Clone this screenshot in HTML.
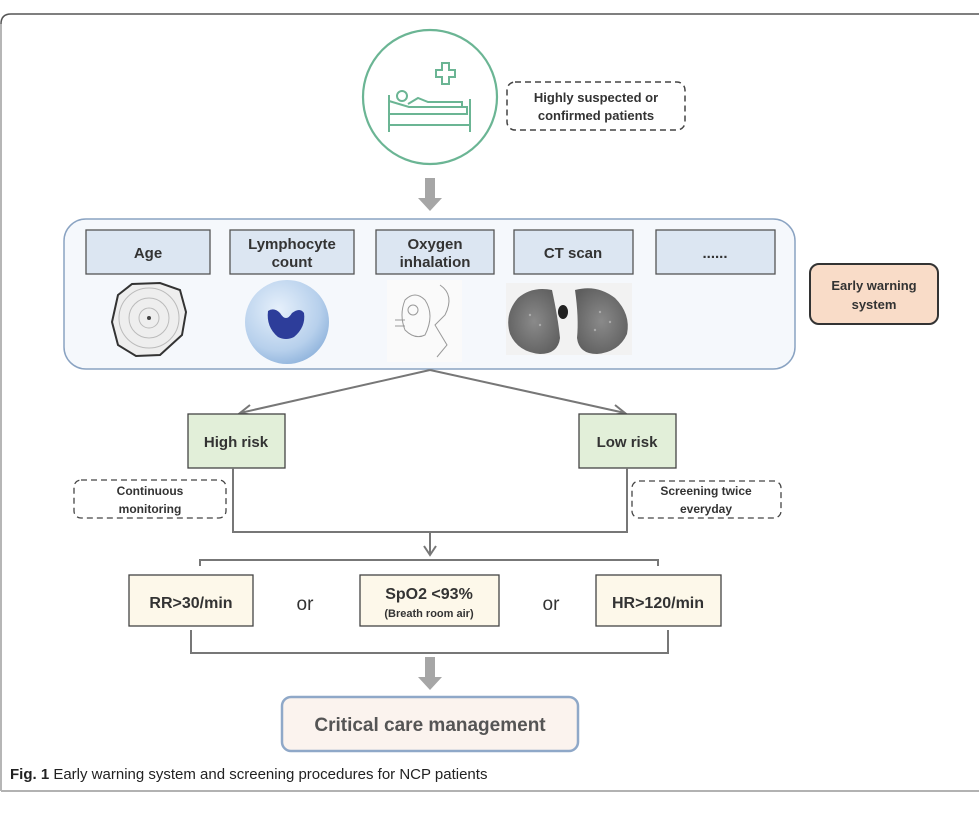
<!DOCTYPE html>
<html><head><meta charset="utf-8"><style>
html,body{margin:0;padding:0;background:#fff;width:979px;height:825px;overflow:hidden}
text{font-family:"Liberation Sans",sans-serif}
</style></head><body>
<svg width="979" height="825" viewBox="0 0 979 825" xmlns="http://www.w3.org/2000/svg">
<defs>
<radialGradient id="cell" cx="0.4" cy="0.35" r="0.7"><stop offset="0" stop-color="#e6f0fb"/><stop offset="0.7" stop-color="#b7d0ec"/><stop offset="1" stop-color="#8fb3dc"/></radialGradient>
<radialGradient id="lung" cx="0.5" cy="0.5" r="0.6"><stop offset="0" stop-color="#8a8a8a"/><stop offset="1" stop-color="#5e5e5e"/></radialGradient>
</defs>
<path d="M1,791 L1,24 Q1,14 11,14 L990,14" fill="none" stroke="#555" stroke-width="1.5"/>
<line x1="1" y1="791" x2="979" y2="791" stroke="#999" stroke-width="1.5"/>
<line x1="1" y1="24" x2="1" y2="791" stroke="#bbb" stroke-width="1.5"/>

<circle cx="430" cy="97" r="67" fill="#fff" stroke="#6bb594" stroke-width="2.2"/>
<g fill="none" stroke="#6bb594" stroke-width="2">
<path d="M436,70 h6 v-7 h7 v7 h6 v7 h-6 v7 h-7 v-7 h-6 z"/>
<line x1="389" y1="95" x2="389" y2="132"/>
<line x1="470" y1="99" x2="470" y2="132"/>
<line x1="389" y1="125" x2="470" y2="125"/>
<path d="M389,114 h78 v-7 h-58 l-20,-6"/>
<circle cx="402" cy="96" r="5"/>
<path d="M408,104 l10,-6 l10,4 h34 v5"/>
</g>
<rect x="507" y="82" width="178" height="48" rx="8" fill="#fff" stroke="#444" stroke-width="1.5" stroke-dasharray="6,4"/>
<text x="596" y="102" font-size="13" font-weight="bold" fill="#333" text-anchor="middle">Highly suspected or</text>
<text x="596" y="120" font-size="13" font-weight="bold" fill="#333" text-anchor="middle">confirmed patients</text>

<path d="M425,178 h10 v20 h7 l-12,13 l-12,-13 h7 z" fill="#a6a6a6"/>

<rect x="64" y="219" width="731" height="150" rx="22" fill="#f5f8fc" stroke="#8aa3c2" stroke-width="1.5"/>
<g fill="#dce6f2" stroke="#555" stroke-width="1.3">
<rect x="86" y="230" width="124" height="44"/>
<rect x="230" y="230" width="124" height="44"/>
<rect x="376" y="230" width="118" height="44"/>
<rect x="514" y="230" width="119" height="44"/>
<rect x="656" y="230" width="119" height="44"/>
</g>
<g font-size="15" font-weight="bold" fill="#333" text-anchor="middle">
<text x="148" y="258">Age</text>
<text x="292" y="249">Lymphocyte</text>
<text x="292" y="267">count</text>
<text x="435" y="249">Oxygen</text>
<text x="435" y="267">inhalation</text>
<text x="573" y="258">CT scan</text>
<text x="715" y="258">......</text>
</g>
<path d="M118,295 L132,284 L160,283 L180,290 L186,312 L182,335 L160,355 L136,356 L118,345 L112,322 Z" fill="#eeeeee" stroke="#333" stroke-width="2"/>
<g fill="none" stroke="#bbb" stroke-width="1"><circle cx="149" cy="318" r="10"/><circle cx="149" cy="318" r="20"/><circle cx="149" cy="318" r="30"/></g>
<circle cx="149" cy="318" r="2" fill="#444"/>
<circle cx="287" cy="322" r="42" fill="url(#cell)"/>
<path d="M268,311 q6,-4 12,2 q6,10 12,0 q8,-6 12,0 q2,14 -10,24 q-8,4 -16,0 q-12,-10 -10,-26 z" fill="#2d3d9a"/>
<rect x="387" y="280" width="75" height="82" fill="#fafafa"/>
<g fill="none" stroke="#999" stroke-width="1">
<path d="M405,300 q10,-10 20,0 q10,15 0,35 q-10,5 -20,-5 q-6,-15 0,-30 z"/>
<circle cx="413" cy="310" r="5"/>
<path d="M440,285 q15,10 5,30 l-10,10 l12,20 l-10,12"/>
<path d="M395,320 h10 M395,326 h10"/>
</g>
<rect x="506" y="283" width="126" height="72" fill="#f2f2f2"/>
<path d="M552,290 q-20,-4 -34,8 q-14,16 -8,36 q8,18 30,20 q18,0 20,-16 q-2,-20 -8,-48 z" fill="url(#lung)"/>
<path d="M575,290 q22,-6 40,8 q16,16 12,36 q-8,18 -30,20 q-18,0 -20,-16 q2,-20 -2,-48 z" fill="url(#lung)"/>
<g fill="#aaa"><circle cx="530" cy="315" r="1.2"/><circle cx="540" cy="325" r="1.2"/><circle cx="600" cy="312" r="1.2"/><circle cx="595" cy="330" r="1.2"/><circle cx="610" cy="322" r="1.2"/></g>
<ellipse cx="563" cy="312" rx="5" ry="7" fill="#222"/>

<rect x="810" y="264" width="128" height="60" rx="9" fill="#f9dcc8" stroke="#333" stroke-width="2"/>
<text x="874" y="290" font-size="13" font-weight="bold" fill="#333" text-anchor="middle">Early warning</text>
<text x="874" y="309" font-size="13" font-weight="bold" fill="#333" text-anchor="middle">system</text>

<g stroke="#777" stroke-width="2" fill="none">
<line x1="430" y1="370" x2="240" y2="413"/>
<path d="M250,405 l-10,8 l12,2"/>
<line x1="430" y1="370" x2="625" y2="413"/>
<path d="M613,415 l12,-2 l-10,-8"/>
</g>
<rect x="188" y="414" width="97" height="54" fill="#e2efd9" stroke="#444" stroke-width="1.3"/>
<text x="236" y="447" font-size="15" font-weight="bold" fill="#333" text-anchor="middle">High risk</text>
<rect x="579" y="414" width="97" height="54" fill="#e2efd9" stroke="#444" stroke-width="1.3"/>
<text x="627" y="447" font-size="15" font-weight="bold" fill="#333" text-anchor="middle">Low risk</text>

<rect x="74" y="480" width="152" height="38" rx="7" fill="#fff" stroke="#444" stroke-width="1.3" stroke-dasharray="6,4"/>
<text x="150" y="495" font-size="12" font-weight="bold" fill="#333" text-anchor="middle">Continuous</text>
<text x="150" y="513" font-size="12" font-weight="bold" fill="#333" text-anchor="middle">monitoring</text>
<rect x="632" y="481" width="149" height="37" rx="7" fill="#fff" stroke="#444" stroke-width="1.3" stroke-dasharray="6,4"/>
<text x="706" y="495" font-size="12" font-weight="bold" fill="#333" text-anchor="middle">Screening twice</text>
<text x="706" y="513" font-size="12" font-weight="bold" fill="#333" text-anchor="middle">everyday</text>

<g stroke="#777" stroke-width="2" fill="none">
<path d="M233,468 V532 H627 V468"/>
<line x1="430" y1="532" x2="430" y2="554"/>
<path d="M424,546 l6,9 l6,-9"/>
<path d="M200,566 V560 H658 V566"/>
<path d="M191,630 V653 H668 V630"/>
</g>

<g fill="#fdf8ea" stroke="#444" stroke-width="1.3">
<rect x="129" y="575" width="124" height="51"/>
<rect x="360" y="575" width="139" height="51"/>
<rect x="596" y="575" width="125" height="51"/>
</g>
<text x="191" y="608" font-size="16" font-weight="bold" fill="#333" text-anchor="middle">RR&gt;30/min</text>
<text x="429" y="599" font-size="16" font-weight="bold" fill="#333" text-anchor="middle">SpO2 &lt;93%</text>
<text x="429" y="617" font-size="11" font-weight="bold" fill="#333" text-anchor="middle">(Breath room air)</text>
<text x="658" y="608" font-size="16" font-weight="bold" fill="#333" text-anchor="middle">HR&gt;120/min</text>
<text x="305" y="610" font-size="19" fill="#333" text-anchor="middle">or</text>
<text x="551" y="610" font-size="19" fill="#333" text-anchor="middle">or</text>

<path d="M425,657 h10 v20 h7 l-12,13 l-12,-13 h7 z" fill="#a6a6a6"/>
<rect x="282" y="697" width="296" height="54" rx="9" fill="#fbf3ee" stroke="#8fa8c8" stroke-width="2.5"/>
<text x="430" y="731" font-size="19" font-weight="bold" fill="#555" text-anchor="middle">Critical care management</text>

<text x="10" y="779" font-size="15" fill="#222"><tspan font-weight="bold">Fig. 1</tspan>  Early warning system and screening procedures for NCP patients</text>
</svg>
</body></html>
